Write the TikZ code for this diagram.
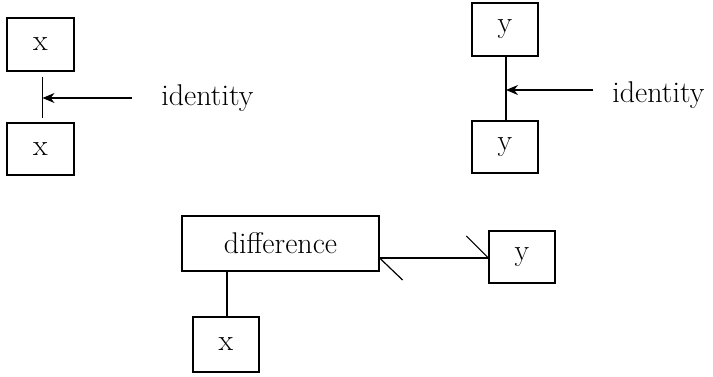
\documentclass[tikz,border=0pt]{standalone}
\usetikzlibrary{arrows.meta,calc}
\begin{document}
\begin{tikzpicture}[x=0.5pt,y=-0.5pt,
  box/.style={draw,line width=0.6pt,inner sep=0pt,font=\fontsize{15}{17}\selectfont},
  conn/.style={line width=0.6pt},
  lbl/.style={inner sep=0pt,anchor=west,font=\fontsize{15}{17}\selectfont},
  arr/.style={line width=0.6pt,-{Stealth[length=6pt,width=5pt]}}]
\useasboundingbox (0,0) rectangle (713,376);
% top left
\node[box,minimum width=33.5pt,minimum height=26.5pt] (xa) at (40.5,44.5) {x};
\node[box,minimum width=33.5pt,minimum height=26pt] (xb) at (40.5,149) {x};
\draw[conn,shorten <=2.5pt,shorten >=2pt] ([xshift=1pt]xa.south) -- ([xshift=1pt]xb.north) coordinate[pos=0.5] (lm);
\node[lbl] (li) at (161,98) {identity};
\coordinate (la) at (132,98);
\draw[arr] (la) -- (lm |- la);
% top right
\node[box,minimum width=33pt,minimum height=26.5pt] (ya) at (505,29.5) {y};
\node[box,minimum width=33pt,minimum height=26pt] (yb) at (505,147) {y};
\draw[conn] ([xshift=0.5pt]ya.south) -- ([xshift=0.5pt]yb.north) coordinate[pos=0.5] (rm);
\node[lbl] (ri) at (612,95) {identity};
\coordinate (ra) at (593,90);
\draw[arr] (ra) -- (rm |- ra);
% bottom
\node[box,minimum width=98.5pt,minimum height=27.5pt] (diff) at (280.5,243.5) {difference};
\node[box,minimum width=33pt,minimum height=26pt] (yc) at (522,257) {y};
\node[box,minimum width=33pt,minimum height=27.5pt] (xc) at (226,344.5) {x};
\coordinate (dl) at (diff.east |- 0,258);
\coordinate (dr) at (yc.west |- 0,258);
\draw[conn] (dl) -- (dr);
\draw[conn] (dl) -- ++(23,22);
\draw[conn] (dr) -- ++(-22,-22);
\draw[conn] ([xshift=0.5pt]xc.north) -- ([xshift=0.5pt]xc.north |- diff.south);
\end{tikzpicture}
\end{document}
